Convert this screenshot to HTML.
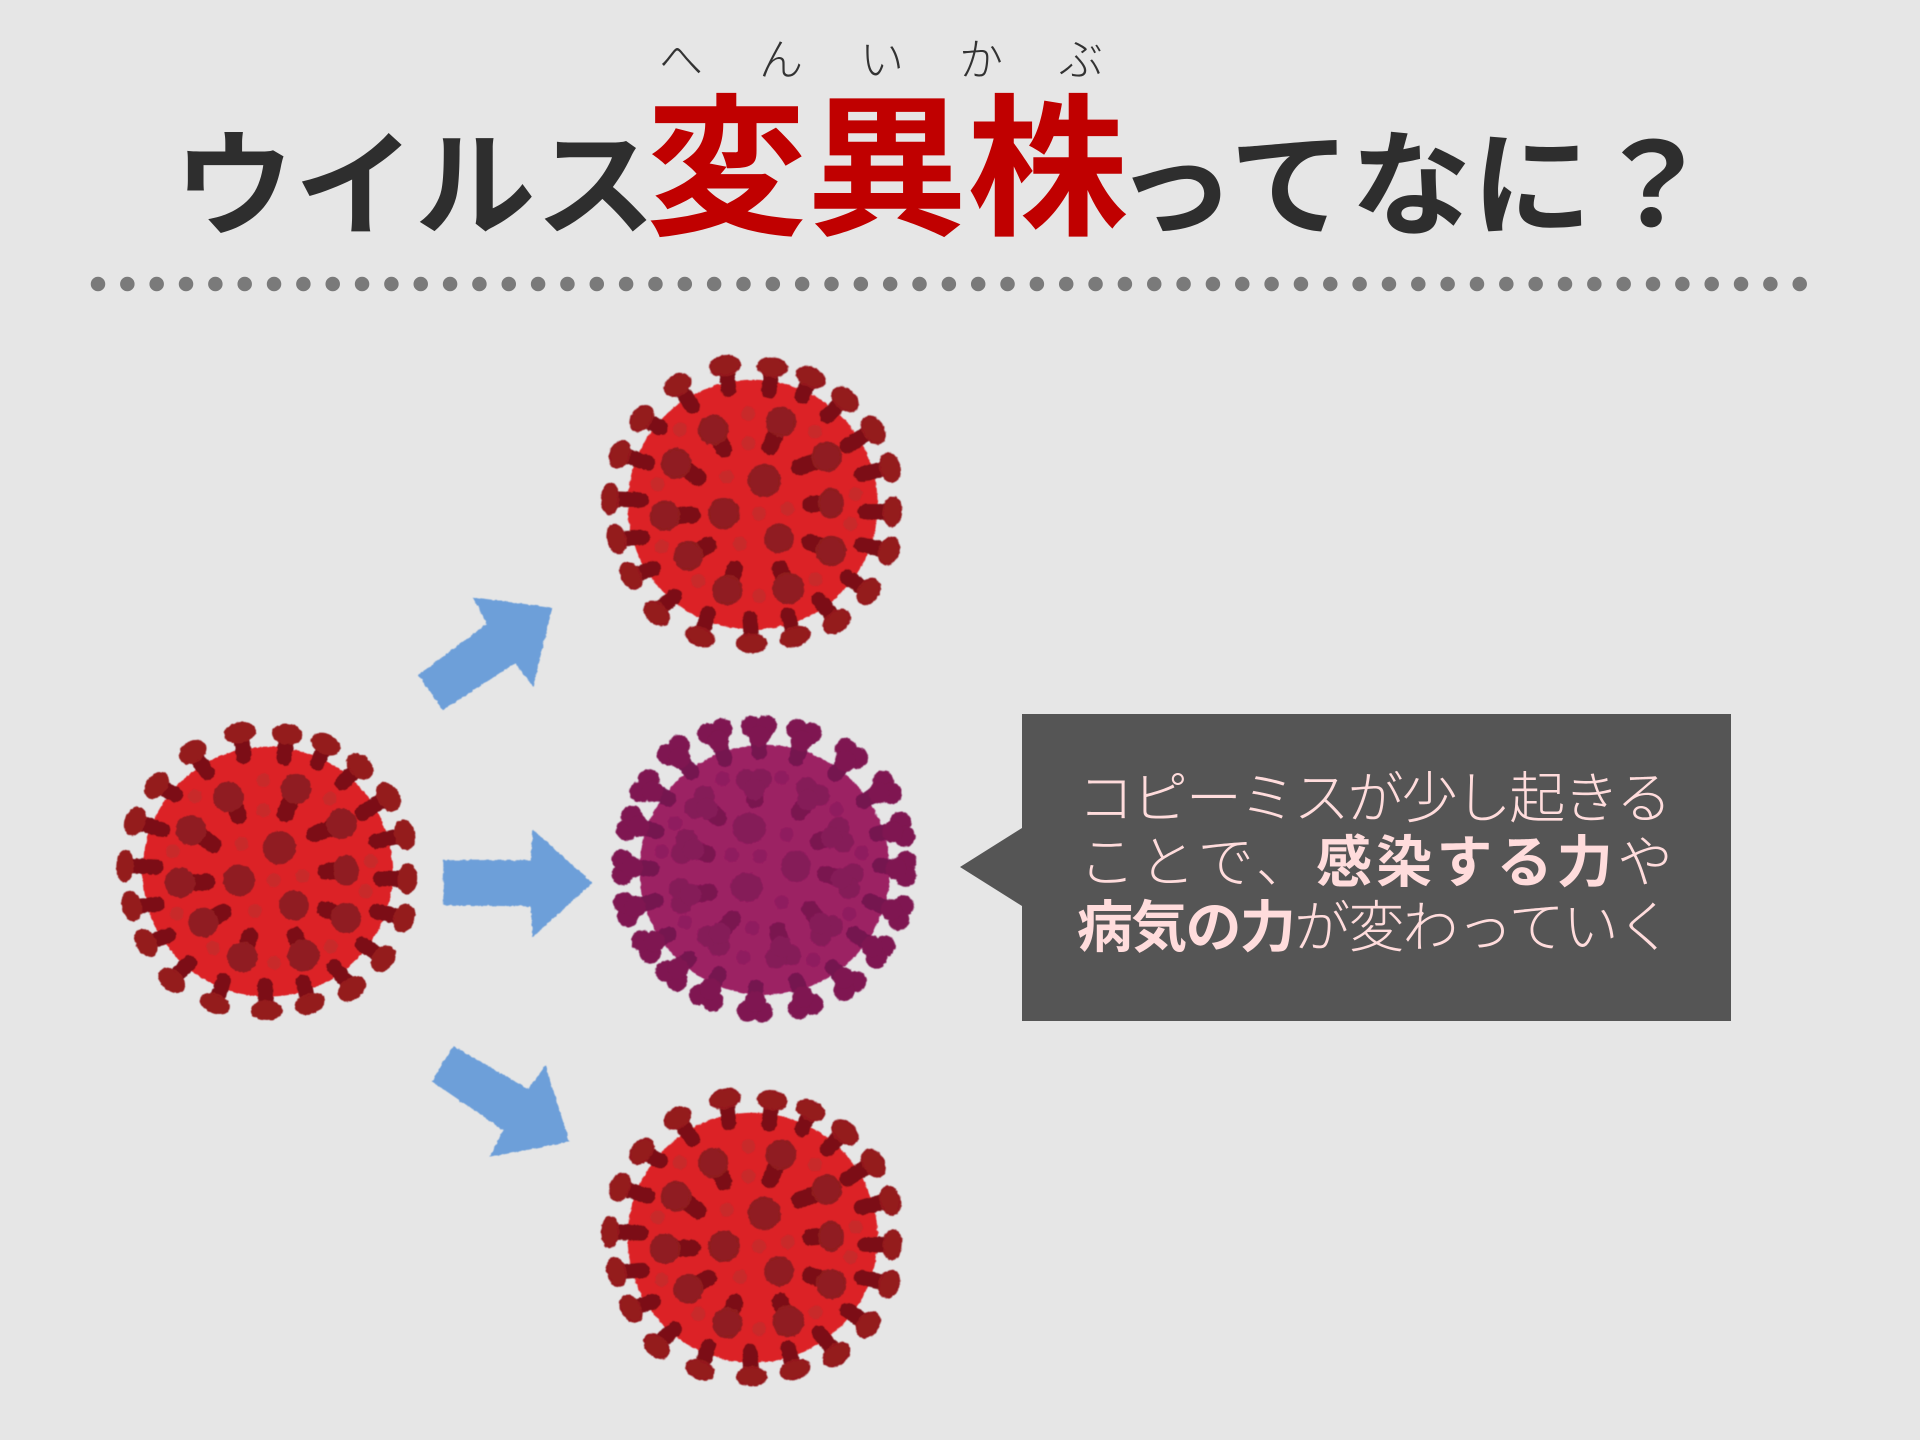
<!DOCTYPE html>
<html lang="ja"><head><meta charset="utf-8"><style>
html,body{margin:0;padding:0;background:#e6e6e6}
svg{display:block}
text{font-family:"Liberation Sans","Noto Sans CJK JP",sans-serif}
</style></head><body>
<svg xmlns="http://www.w3.org/2000/svg" width="1920" height="1440" viewBox="0 0 1920 1440">
<defs>
<filter id="rough" x="-5%" y="-5%" width="110%" height="110%">
<feTurbulence type="fractalNoise" baseFrequency=".22" numOctaves="2" seed="4"/>
<feDisplacementMap in="SourceGraphic" scale="3" xChannelSelector="R" yChannelSelector="G"/>
<feGaussianBlur stdDeviation=".6"/>
</filter>
<g id="red" transform="scale(.33333)">
<circle cx="503" cy="509" r="375" fill="#dc2428"/>
<g fill="#c8292c">
<circle cx="490" cy="235" r="21"/><circle cx="285" cy="283" r="21"/><circle cx="690" cy="290" r="21"/><circle cx="490" cy="325" r="21"/><circle cx="425" cy="425" r="21"/><circle cx="218" cy="448" r="21"/><circle cx="812" cy="477" r="21"/><circle cx="522" cy="535" r="21"/><circle cx="608" cy="522" r="21"/><circle cx="797" cy="567" r="21"/><circle cx="465" cy="627" r="21"/><circle cx="230" cy="635" r="21"/><circle cx="340" cy="738" r="21"/><circle cx="692" cy="733" r="21"/><circle cx="523" cy="783" r="21"/>
</g>
<path stroke="#7c1114" stroke-width="50" stroke-linecap="round" fill="none" d="M555 336L575 290M643 396L695 378M677 508L712 505M675 622L712 635M585 700L597 730M450 702L440 730M370 630L335 650M322 540L270 542M340 428L300 400M416 342L400 305"/>
<g fill="#901c20" stroke="#901c20" stroke-width="6">
<circle cx="538" cy="437" r="47"/><circle cx="417" cy="535" r="45"/><circle cx="582" cy="610" r="42"/>
<circle cx="588" cy="260" r="43"/><circle cx="725" cy="365" r="43"/><ellipse cx="738" cy="505" rx="36" ry="43"/><circle cx="738" cy="648" r="43"/><circle cx="610" cy="760" r="45"/><circle cx="427" cy="765" r="43"/><circle cx="310" cy="662" r="42"/><circle cx="240" cy="542" r="43"/><circle cx="273" cy="385" r="43"/><circle cx="385" cy="285" r="43"/>
</g>
<path stroke="#7c1114" stroke-width="46" stroke-linecap="round" fill="none" d="M431 163L424 105M552 168L560 110M652 183L672 140M727 243L770 200M787 333L855 290M829 418L905 400M841 530L910 530M829 628L900 645M787 727L845 765M702 794L750 850M609 840L625 895M495 850L499 910M370 836L350 895M268 783L222 825M205 700L148 720M172 607L110 612M168 495L90 492M188 384L120 362M226 278L180 255M322 213L288 165"/>
<g fill="#941a1d" stroke="#941a1d" stroke-width="5">
<ellipse rx="46" ry="29" transform="translate(420 92) rotate(-11)"/><ellipse rx="44" ry="28" transform="translate(562 97) rotate(8)"/><ellipse rx="44" ry="28" transform="translate(677 127) rotate(24)"/><ellipse rx="44" ry="30" transform="translate(780 193) rotate(41)"/><ellipse rx="45" ry="30" transform="translate(865 285) rotate(58)"/><ellipse rx="44" ry="29" transform="translate(915 398) rotate(75)"/><ellipse rx="44" ry="27" transform="translate(922 530) rotate(93)"/><ellipse rx="42" ry="29" transform="translate(912 648) rotate(109)"/><ellipse rx="42" ry="30" transform="translate(850 770) rotate(127)"/><ellipse rx="44" ry="30" transform="translate(755 860) rotate(144)"/><ellipse rx="45" ry="28" transform="translate(630 905) rotate(162)"/><ellipse rx="45" ry="28" transform="translate(500 925)"/><ellipse rx="44" ry="27" transform="translate(345 905) rotate(202)"/><ellipse rx="43" ry="29" transform="translate(215 835) rotate(221)"/><ellipse rx="43" ry="28" transform="translate(138 722) rotate(240)"/><ellipse rx="44" ry="27" transform="translate(95 612) rotate(256)"/><ellipse rx="46" ry="25" transform="translate(75 492) rotate(272)"/><ellipse rx="42" ry="29" transform="translate(105 358) rotate(291)"/><ellipse rx="42" ry="29" transform="translate(170 250) rotate(308)"/><ellipse rx="42" ry="30" transform="translate(278 150) rotate(328)"/>
</g>
</g>
<g id="ph"><circle cx="-22" cy="-8" r="32"/><circle cx="22" cy="-8" r="32"/><circle cx="0" cy="22" r="32"/></g>
<g id="purple" transform="scale(.33333)">
<circle cx="524" cy="508" r="375" fill="#9c2064"/>
<g fill="#8f1f5e">
<circle cx="398" cy="235" r="21"/><circle cx="575" cy="232" r="21"/><circle cx="740" cy="327" r="21"/><circle cx="255" cy="368" r="21"/><circle cx="590" cy="402" r="21"/><circle cx="215" cy="453" r="21"/><circle cx="425" cy="463" r="21"/><circle cx="510" cy="467" r="21"/><circle cx="815" cy="457" r="21"/><circle cx="575" cy="605" r="21"/><circle cx="778" cy="640" r="21"/><circle cx="285" cy="665" r="21"/><circle cx="487" cy="682" r="21"/><circle cx="670" cy="778" r="21"/><circle cx="460" cy="770" r="21"/>
</g>
<path stroke="#7a1250" stroke-width="50" stroke-linecap="round" fill="none" d="M495 298L493 270M628 335L650 305M684 423L720 412M706 520L745 532M659 626L685 660M563 690L572 730M428 655L400 688M358 575L315 582M352 461L320 450M386 352L360 330"/>
<g fill="#851b58">
<ellipse cx="477" cy="383" rx="50" ry="46"/><ellipse cx="618" cy="498" rx="44" ry="47"/><ellipse cx="470" cy="560" rx="48" ry="44"/>
<use href="#ph" transform="translate(492 245) rotate(-3)"/><use href="#ph" transform="translate(665 280) rotate(32)"/><use href="#ph" transform="translate(745 405) rotate(73)"/><use href="#ph" transform="translate(775 540) rotate(105)"/><use href="#ph" transform="translate(705 685) rotate(140)"/><use href="#ph" transform="translate(578 760) rotate(169)"/><use href="#ph" transform="translate(375 715) rotate(221)"/><use href="#ph" transform="translate(280 585) rotate(263)"/><use href="#ph" transform="translate(290 440) rotate(289)"/><use href="#ph" transform="translate(335 310) rotate(309)"/>
</g>
<path stroke="#741350" stroke-width="46" stroke-linecap="round" fill="none" d="M507 155L507 100M405 175L385 120M305 215L268 172M235 295L185 268M200 393L145 376M185 505L120 500M198 600L135 620M236 702L190 728M296 775L262 808M387 820L360 870M497 860L495 905M618 840L640 890M728 800L762 838M793 700L850 740M840 602L905 628M870 495L925 503M860 400L915 390M820 302L870 273M735 220L770 178M619 175L635 120"/>
<g fill="#7f1551">
<use href="#ph" transform="translate(507 85) rotate(-2)"/><use href="#ph" transform="translate(378 100) rotate(-20)"/><use href="#ph" transform="translate(255 155) rotate(-37)"/><use href="#ph" transform="translate(170 260) rotate(-55)"/><use href="#ph" transform="translate(125 370) rotate(-71)"/><use href="#ph" transform="translate(105 500) rotate(-89)"/><use href="#ph" transform="translate(115 625) rotate(-106)"/><use href="#ph" transform="translate(175 735) rotate(-123)"/><use href="#ph" transform="translate(250 820) rotate(-139)"/><use href="#ph" transform="translate(352 885) rotate(-155)"/><use href="#ph" transform="translate(495 925) rotate(-176)"/><use href="#ph" transform="translate(645 910) rotate(163)"/><use href="#ph" transform="translate(775 850) rotate(144)"/><use href="#ph" transform="translate(865 750) rotate(125)"/><use href="#ph" transform="translate(925 635) rotate(108)"/><use href="#ph" transform="translate(940 505) rotate(90)"/><use href="#ph" transform="translate(930 388) rotate(74)"/><use href="#ph" transform="translate(885 265) rotate(56)"/><use href="#ph" transform="translate(780 165) rotate(37)"/><use href="#ph" transform="translate(640 100) rotate(16)"/>
</g>
</g>
</defs>
<rect width="1920" height="1440" fill="#e6e6e6"/>

<!-- title -->
<text y="75" font-size="44" font-weight="300" fill="#333" x="659 759 860 959 1059">へんいかぶ</text>
<text x="174" y="226" font-size="115" font-weight="700" fill="#2e2e2e" textLength="482" lengthAdjust="spacingAndGlyphs">ウイルス</text>
<text x="646" y="223" font-size="153" font-weight="700" fill="#c00000" textLength="482" lengthAdjust="spacingAndGlyphs">変異株</text>
<text x="1115" y="226" font-size="115" font-weight="700" fill="#2e2e2e" textLength="598" lengthAdjust="spacingAndGlyphs">ってなに？</text>
<line x1="98" y1="284" x2="1802" y2="284" stroke="#7a7a7a" stroke-width="14.5" stroke-linecap="round" stroke-dasharray="0 29.34"/>

<!-- viruses -->
<g filter="url(#rough)">
<use href="#red" transform="translate(100 702)"/>
<use href="#red" transform="translate(585 335)"/>
<use href="#red" transform="translate(585 1068)"/>
<use href="#purple" transform="translate(590 700.5)"/>
<g fill="#6d9fd9">
<polygon points="472.7,597.2 552.3,607.6 533.3,686.4 515,663.4 442.7,710.1 418.3,674.9 486.7,624"/>
<polygon points="443.3,860.1 530.7,860.1 532.7,829.5 592.7,883.1 532.7,936.7 530.7,906.4 443.3,905.3"/>
<polygon points="453.3,1046.1 528.3,1089 545.7,1065.3 569.3,1141.8 489.3,1157.1 503.3,1130 431.7,1081.3"/>
</g>
</g>

<!-- callout -->
<polygon points="1022,714 1731,714 1731,1021 1022,1021 1022,906 960,867 1022,828" fill="#555"/>
<g font-size="56" fill="#ffdcdc" font-weight="300">
<text x="1078" y="818" textLength="594" lengthAdjust="spacing">コピーミスが少し起きる</text>
<text x="1079" y="882" textLength="594" lengthAdjust="spacing">ことで、<tspan font-weight="700">感染する力</tspan>や</text>
<text x="1077" y="947" textLength="596" lengthAdjust="spacing"><tspan font-weight="700">病気の力</tspan>が変わっていく</text>
</g>
</svg>
</body></html>
